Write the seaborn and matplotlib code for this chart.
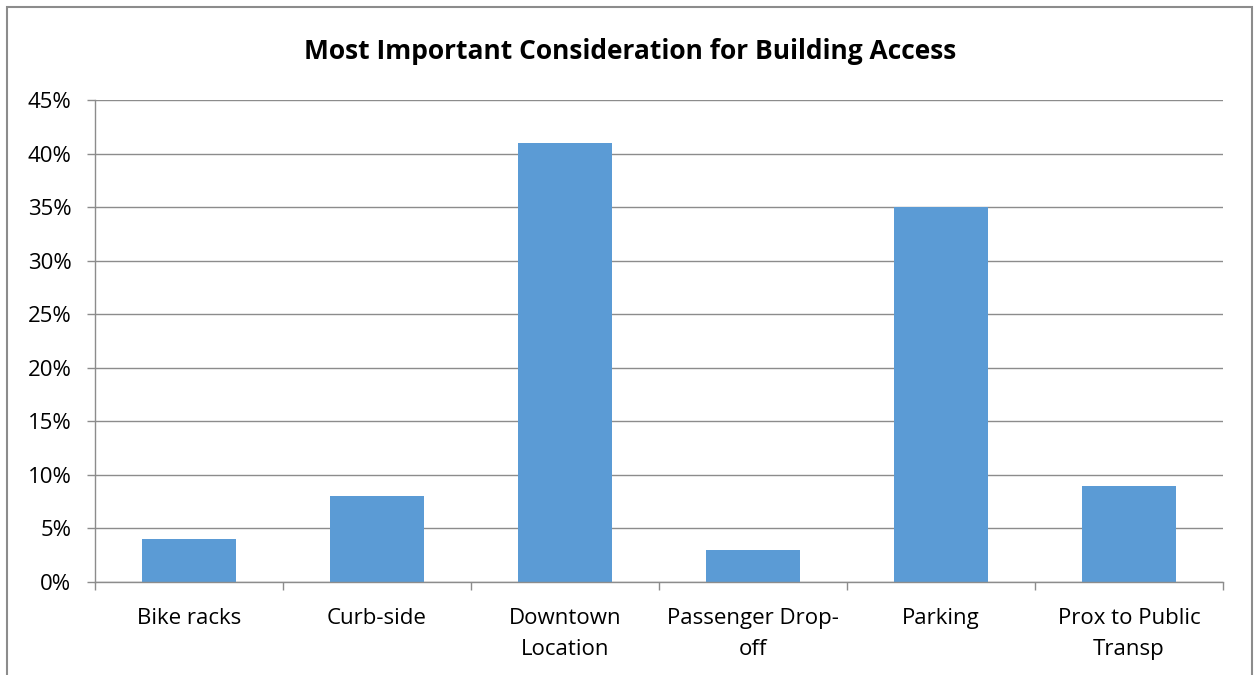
import numpy as np
import pandas as pd
import matplotlib
matplotlib.use("Agg")
import matplotlib.pyplot as plt
import seaborn as sns
from matplotlib.patches import Rectangle
from matplotlib.ticker import PercentFormatter

categories = ["Bike racks", "Curb-side", "Downtown\nLocation", "Passenger Drop-\noff",
              "Parking", "Prox to Public\nTransp"]
shares = [4, 8, 41, 3, 35, 9]

df = pd.DataFrame({"category": categories, "share": shares})

sns.set_style("white")
plt.rcParams["font.family"] = ["Open Sans", "DejaVu Sans"]

fig = plt.figure(figsize=(12.55, 6.75), dpi=100)
ax = fig.add_axes([0.0757, 0.1378, 0.8988, 0.7141])

sns.barplot(data=df, x="category", y="share", color="#5B9BD5", saturation=1,
            width=0.5, linewidth=0, ax=ax)

ax.set_ylim(0, 45)
ax.set_xlim(-0.5, len(categories) - 0.5)
ax.set_yticks(np.arange(0, 46, 5))
ax.yaxis.set_major_formatter(PercentFormatter(decimals=0))
ax.grid(axis="y", color="#8c8c8c", linewidth=1)
ax.set_axisbelow(True)

for side in ["top", "right"]:
    ax.spines[side].set_visible(False)
for side in ["left", "bottom"]:
    ax.spines[side].set_color("#8c8c8c")
    ax.spines[side].set_linewidth(1)

ax.tick_params(axis="y", length=6, width=1, color="#8c8c8c", labelsize=16,
               labelcolor="black", pad=11, left=True)
ax.tick_params(axis="x", which="major", length=0, labelsize=16, labelcolor="black", pad=19)
for lbl in ax.get_xticklabels():
    lbl.set_linespacing(1.6)
ax.set_xticks(np.arange(-0.5, len(categories), 1), minor=True)
ax.tick_params(axis="x", which="minor", length=6, width=1, color="#8c8c8c", bottom=True)

ax.set_xlabel("")
ax.set_ylabel("")
fig.text(0.502, 0.924, "Most Important Consideration for Building Access",
         ha="center", va="center", fontsize=19, fontweight="bold", color="black")

fig.patches.append(Rectangle((7 / 1255, -0.1), 1245 / 1255, 1.1 - 7 / 675,
                             transform=fig.transFigure, fill=False,
                             edgecolor="#8c8c8c", linewidth=1.5))

fig.savefig("out.png", dpi=100)
